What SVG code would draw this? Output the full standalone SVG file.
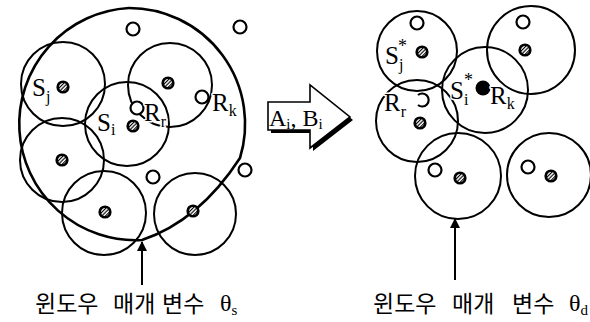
<svg xmlns="http://www.w3.org/2000/svg" xmlns:xlink="http://www.w3.org/1999/xlink" width="590" height="322" viewBox="0 0 590 322">
<style>
.c{fill:none;stroke:#000;stroke-width:2}
.big{fill:none;stroke:#000;stroke-width:2.6}
.ring{fill:#fff;stroke:#000;stroke-width:2.2}
.lb{font-family:"Liberation Serif","Times New Roman",serif;font-size:25px;fill:#000;stroke:#fff;stroke-width:3;paint-order:stroke;stroke-linejoin:round}
.sub{font-size:16px}
.st{font-size:18px}
.ko{font-family:"Noto Sans CJK KR","Noto Sans",sans-serif;font-size:23px;fill:#000}
.th{font-family:"Liberation Serif","Times New Roman",serif;font-size:24px;fill:#000}
.con{stroke:#000;stroke-width:2;fill:none}
</style>
<defs>
<pattern id="hatch" width="2.6" height="2.6" patternUnits="userSpaceOnUse" patternTransform="rotate(45)"><rect width="2.6" height="2.6" fill="#fff"/><rect width="1.1" height="2.6" fill="#000"/></pattern>
<g id="hd"><circle r="6.6" fill="#000"/><circle r="3.9" fill="url(#hatch)"/></g>
<marker id="ah" viewBox="0 0 10 10" refX="9" refY="5" markerWidth="5" markerHeight="5" orient="auto"><path d="M0,0 L10,5 L0,10 Z" fill="#000"/></marker>
</defs>
<rect width="590" height="322" fill="#fff"/>

<g id="window-s">
<path class="big" d="M129,8 A116,116 0 0 1 240,158 Q199,221 142,240 A116,116 0 1 1 129,8 Z"/>
</g>
<g id="left-sensors">
<g id="Sj"><circle class="c" cx="63" cy="84" r="42"/><use xlink:href="#hd" x="63" y="87"/></g>
<g id="Sk"><circle class="c" cx="170" cy="85" r="42"/><use xlink:href="#hd" x="168" y="83"/></g>
<g id="Si"><circle class="c" cx="127" cy="124" r="42"/><use xlink:href="#hd" x="133" y="126"/></g>
<g id="Sl"><circle class="c" cx="62" cy="160" r="42"/><use xlink:href="#hd" x="62" y="160"/></g>
<g id="Sm"><circle class="c" cx="104" cy="213" r="42"/><use xlink:href="#hd" x="105" y="212"/></g>
<g id="Sn"><circle class="c" cx="195" cy="214" r="41"/><use xlink:href="#hd" x="193" y="211"/></g>
</g>
<g id="left-rings">
<circle class="ring" cx="133" cy="29" r="6.5"/>
<circle class="ring" cx="240" cy="27" r="6.5"/>
<circle class="ring" cx="137" cy="108" r="6.5"/>
<circle class="ring" cx="202" cy="97" r="6.5"/>
<circle class="ring" cx="153" cy="177" r="6.5"/>
<circle class="ring" cx="245" cy="170" r="6.5"/>
</g>
<g id="left-labels">
<text class="lb" x="32" y="96">S<tspan class="sub" dy="6">j</tspan></text>
<text class="lb" x="97" y="131">S<tspan class="sub" dy="4">i</tspan></text>
<text class="lb" x="144" y="121">R<tspan class="sub" dy="6">r</tspan></text>
<text class="lb" x="212" y="111">R<tspan class="sub" dy="5">k</tspan></text>
</g>

<g id="transform-arrow">
<path d="M271,105 H313 V88 L353,120 L313,151 V133 H271 Z" fill="#000"/>
<path d="M268,102 H310 V85 L350,117 L310,148 V130 H268 Z" fill="#fff" stroke="#000" stroke-width="1.6" stroke-linejoin="miter"/>
<text class="th" x="269" y="126" font-size="23px">A<tspan font-size="15" dy="3">i</tspan><tspan dy="-3">, B</tspan><tspan font-size="15" dy="3">i</tspan></text>
</g>

<g id="right-sensors">
<g id="Sj-star"><circle class="c" cx="417" cy="51" r="40"/><circle class="ring" cx="417" cy="23" r="6.5"/><use xlink:href="#hd" x="422" y="52"/></g>
<g id="Sq"><circle class="c" cx="531" cy="50" r="44"/><circle class="ring" cx="523" cy="22" r="6.5"/><use xlink:href="#hd" x="525" y="50"/></g>
<g id="Si-star"><circle class="c" cx="485" cy="90" r="43"/><circle cx="483" cy="88" r="7.5" fill="#000"/></g>
<g id="Sr"><circle class="c" cx="417" cy="121" r="41"/><path d="M418,95 A6.5,6.5 0 1 1 418,105" class="ring" fill="none"/><use xlink:href="#hd" x="420" y="123"/></g>
<g id="Sb"><circle class="c" cx="458" cy="176" r="43"/><circle class="ring" cx="435" cy="170" r="6.5"/><use xlink:href="#hd" x="460" y="178"/></g>
<g id="Sc"><circle class="c" cx="549" cy="175" r="42"/><circle class="ring" cx="528" cy="167" r="6.5"/><use xlink:href="#hd" x="551" y="176"/></g>
</g>
<g id="right-labels">
<text class="lb" x="385" y="64">S<tspan class="sub" dy="6">j</tspan></text>
<text class="lb st" x="398" y="52">*</text>
<text class="lb" x="450" y="99">S<tspan class="sub" dy="6">i</tspan></text>
<text class="lb st" x="464" y="86">*</text>
<text class="lb" x="490" y="104">R<tspan class="sub" dy="5">k</tspan></text>
<text class="lb" x="384" y="111">R<tspan class="sub" dy="6">r</tspan></text>
</g>

<g id="connectors">
<line class="con" x1="142" y1="285" x2="142" y2="242" marker-end="url(#ah)"/>
<line class="con" x1="455" y1="280" x2="455" y2="219" marker-end="url(#ah)"/>
</g>

<g id="captions">
<text class="ko" y="312"><tspan x="35">윈도우</tspan><tspan x="113">매개</tspan><tspan x="162">변수</tspan></text>
<text class="th" x="220" y="311">θ<tspan font-size="15" dy="4">s</tspan></text>
<text class="ko" y="312"><tspan x="373">윈도우</tspan><tspan x="452">매개</tspan><tspan x="512">변수</tspan></text>
<text class="th" x="569" y="311">θ<tspan font-size="15" dy="4">d</tspan></text>
</g>
</svg>
